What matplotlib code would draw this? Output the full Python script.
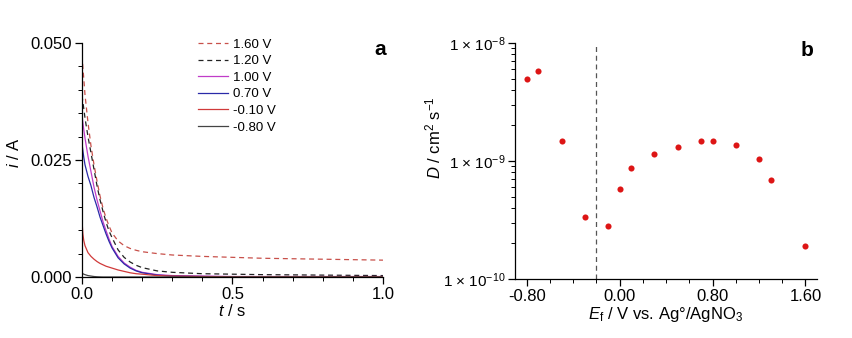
import numpy as np
import matplotlib
matplotlib.use("Agg")
import matplotlib.pyplot as plt
from matplotlib.ticker import MultipleLocator, FixedLocator, LogLocator, NullFormatter

plt.rcParams['font.family'] = ['Liberation Sans', 'DejaVu Sans']
plt.rcParams['mathtext.fontset'] = 'custom'
plt.rcParams['mathtext.rm'] = 'Liberation Sans'
plt.rcParams['mathtext.it'] = 'Liberation Sans:italic'

# panel a: chronoamperometry --------------------------------
t_s = [0, 0.003, 0.006, 0.01, 0.02, 0.03, 0.04, 0.05, 0.06, 0.07, 0.08, 0.09, 0.10,
       0.12, 0.14, 0.16, 0.18, 0.20, 0.25, 0.30, 0.40, 0.50, 0.60, 0.70, 0.80, 0.90, 1.00]

i_160 = [0.0474, 0.0448, 0.0424, 0.0390, 0.0330, 0.0280, 0.0240, 0.0205, 0.0173, 0.0147,
         0.0126, 0.0109, 0.0094, 0.0077, 0.0067, 0.0061, 0.0057, 0.0054, 0.0050, 0.0047,
         0.0044, 0.0042, 0.0040, 0.0039, 0.0038, 0.0037, 0.0036]
i_120 = [0.0388, 0.0374, 0.0360, 0.0340, 0.0300, 0.0265, 0.0230, 0.0195, 0.0165, 0.0140,
         0.0117, 0.0098, 0.0084, 0.0058, 0.0042, 0.0032, 0.0025, 0.0020, 0.0013, 0.0010,
         0.0007, 0.0006, 0.0005, 0.00045, 0.0004, 0.00035, 0.0003]
i_100 = [0.0346, 0.0330, 0.0315, 0.0297, 0.0258, 0.0225, 0.0192, 0.0165, 0.0141, 0.0118,
         0.0099, 0.0081, 0.0065, 0.0044, 0.0030, 0.0021, 0.0014, 0.0010, 0.0005, 0.0003,
         0.0002, 0.0001, 0.0001, 0.0001, 0.0001, 0.0001, 0.0001]
i_070 = [0.0286, 0.0270, 0.0256, 0.0240, 0.0215, 0.0195, 0.0170, 0.0150, 0.0128, 0.0110,
         0.0092, 0.0076, 0.0062, 0.0041, 0.0028, 0.0019, 0.0013, 0.0009, 0.0004, 0.0002,
         0.0001, 0.00005, 0.00005, 0.00005, 0.00005, 0.00005, 0.00005]
i_m010 = [0.0122, 0.0092, 0.0078, 0.0067, 0.0052, 0.0044, 0.0038, 0.0033, 0.0029, 0.0026,
          0.0023, 0.0021, 0.0019, 0.0015, 0.0012, 0.0009, 0.0007, 0.0006, 0.0003, 0.0002,
          0.0001, 0.00005, 0.00005, 0.00005, 0.00005, 0.00005, 0.00005]
i_m080 = [0.0009, 0.0007, 0.0006, 0.0005, 0.0003, 0.0002, 0.0001, 0.00005, 0.00002, 0.0,
          0.0, 0.0, 0.0, 0.0, 0.0, 0.0, 0.0, 0.0, 0.0, 0.0,
          0.0, 0.0, 0.0, 0.0, 0.0, 0.0, 0.0]

labels_a = ["1.60 V", "1.20 V", "1.00 V", "0.70 V", "-0.10 V", "-0.80 V"]
series_a = [i_160, i_120, i_100, i_070, i_m010, i_m080]
colors_a = ["#c8504a", "#222222", "#c03cc8", "#2a2aa8", "#d03a3a", "#444444"]
styles_a = [(0, (4, 3)), (0, (4, 3)), "-", "-", "-", "-"]

# panel b: diffusion coefficients --------------------------
E_f = [-0.80, -0.70, -0.50, -0.30, -0.10, 0.00, 0.10, 0.30, 0.50, 0.70, 0.80, 1.00, 1.20, 1.30, 1.60]
D = [5.0e-9, 5.8e-9, 1.49e-9, 3.35e-10, 2.83e-10, 5.8e-10, 8.7e-10, 1.15e-9, 1.32e-9,
     1.49e-9, 1.47e-9, 1.37e-9, 1.03e-9, 6.95e-10, 1.92e-10]
E_boundary = -0.2

fig = plt.figure(figsize=(8.52, 3.38), dpi=100)
ax1 = fig.add_axes([0.0962, 0.1805, 0.3533, 0.6923])
ax2 = fig.add_axes([0.6045, 0.1746, 0.3545, 0.6982])

for y, lab, c, ls in zip(series_a, labels_a, colors_a, styles_a):
    ax1.plot(t_s, y, color=c, ls=ls, lw=0.9, label=lab)

ax1.set_xlim(0, 1.0)
ax1.set_ylim(0, 0.05)
ax1.xaxis.set_major_locator(FixedLocator([0, 0.5, 1.0]))
ax1.xaxis.set_minor_locator(MultipleLocator(0.1))
ax1.yaxis.set_major_locator(FixedLocator([0, 0.025, 0.05]))
ax1.yaxis.set_minor_locator(MultipleLocator(0.005))
ax1.set_xticklabels(["0.0", "0.5", "1.0"])
ax1.set_yticklabels(["0.000", "0.025", "0.050"])
ax1.set_xlabel(r"$\it{t}$ / s", fontsize=12, labelpad=1)
ax1.set_ylabel(r"$\it{i}$ / A", fontsize=12)
ax1.yaxis.set_label_coords(-0.2, 0.53)
ax1.legend(loc="upper left", bbox_to_anchor=(0.385, 1.02), frameon=False, fontsize=9.5,
           handlelength=2.3, handletextpad=0.4, labelspacing=0.33, borderpad=0, borderaxespad=0)
ax1.text(0.99, 0.974, "a", transform=ax1.transAxes, fontsize=15, fontweight="bold",
         ha="center", va="center")

ax2.set_yscale("log")
ax2.plot(E_f, D, "o", color="#dd1515", ms=4.4, mec="none")
ax2.axvline(E_boundary, color="#555555", ls=(0, (4, 3)), lw=0.9)
ax2.set_xlim(-0.9, 1.7)
ax2.set_ylim(1e-10, 1e-8)
ax2.xaxis.set_major_locator(FixedLocator([-0.8, 0.0, 0.8, 1.6]))
ax2.xaxis.set_minor_locator(MultipleLocator(0.2))
ax2.set_xticklabels(["-0.80", "0.00", "0.80", "1.60"])
ax2.yaxis.set_major_locator(FixedLocator([1e-10, 1e-9, 1e-8]))
ax2.yaxis.set_minor_locator(LogLocator(base=10, subs=np.arange(2, 10)))
ax2.yaxis.set_minor_formatter(NullFormatter())
ax2.set_yticklabels([r"1 $\times$ 10$^{-10}$", r"1 $\times$ 10$^{-9}$", r"1 $\times$ 10$^{-8}$"])
ax2.set_xlabel(r"$\it{E}_\mathrm{f}$ / V vs. Ag°/AgNO$_3$", fontsize=12, labelpad=1)
ax2.set_ylabel(r"$\it{D}$ / cm$^2$ s$^{-1}$", fontsize=12)
ax2.yaxis.set_label_coords(-0.238, 0.60)
ax2.text(0.967, 0.970, "b", transform=ax2.transAxes, fontsize=15, fontweight="bold",
         ha="center", va="center")

for ax in (ax1, ax2):
    ax.spines["top"].set_visible(False)
    ax.spines["right"].set_visible(False)
    ax.spines["left"].set_linewidth(0.9)
    ax.spines["bottom"].set_linewidth(0.9)
    ax.tick_params(which="major", direction="out", length=5, width=0.9, labelsize=12, pad=2)
    ax.tick_params(which="minor", direction="out", length=3, width=0.7)
    ax.set_facecolor("white")
ax2.tick_params(axis="y", which="major", labelsize=11)

fig.savefig("out.png", dpi=100, facecolor="white")
